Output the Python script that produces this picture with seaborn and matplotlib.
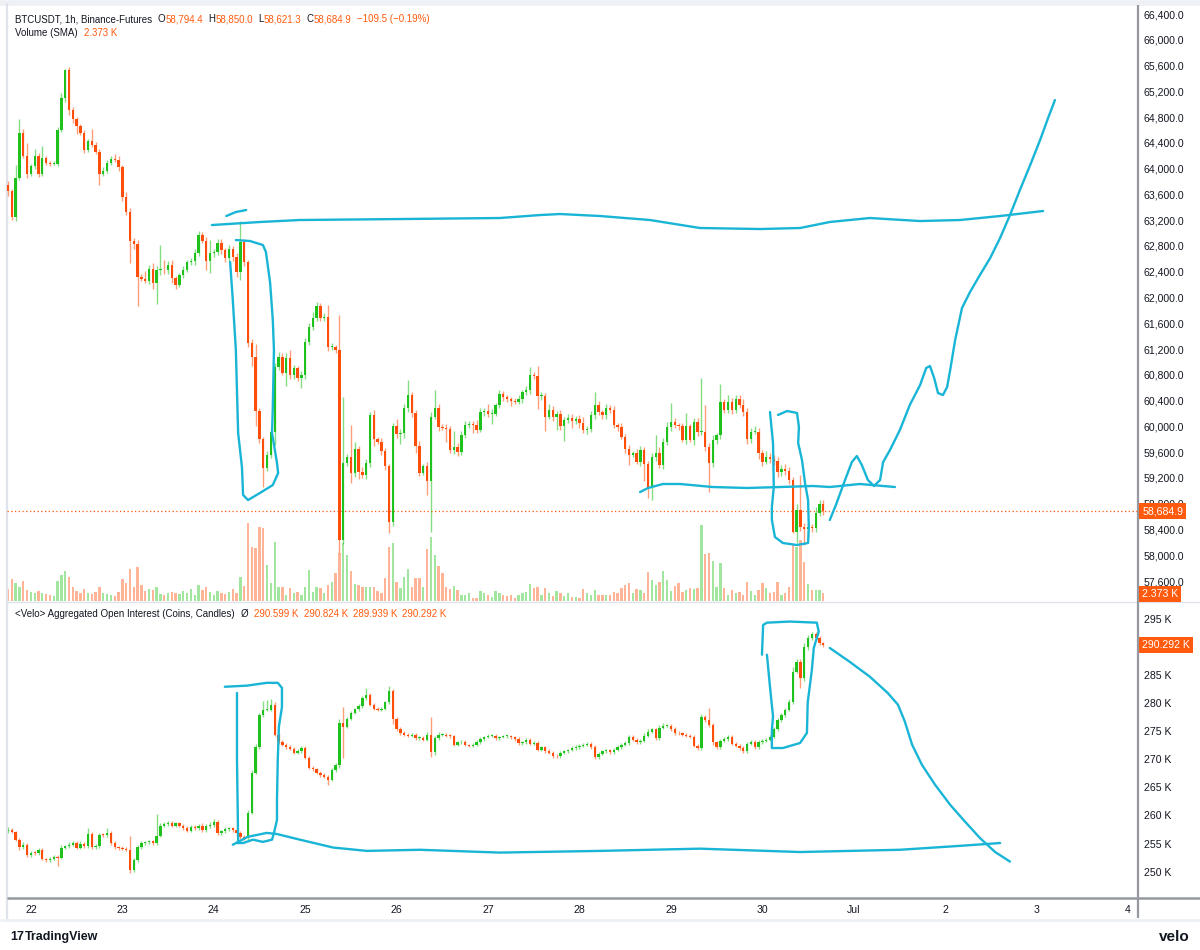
import numpy as np
import matplotlib
matplotlib.use("Agg")
import matplotlib.pyplot as plt
from matplotlib.lines import Line2D
import seaborn as sns
import pandas as pd

# ---------------- DATA (hourly candles, BTCUSDT 1h, Jun 21 18:00 -> Jun 30 16:00) ----------------
price_first_open = 63750
price_close = [
    63650, 63250, 63850, 64550, 64200, 63920, 64040, 64200, 63920, 64160, 64090, 64080, 64080, 64600, 65100, 65530, 64910, 64770, 64660, 64550, 64290, 64430, 64370, 64260,
    63920, 63960, 64090, 64150, 64140, 64020, 63560, 63330, 62880, 62830, 62320, 62290, 62260, 62450, 62220, 62430, 62430, 62420, 62500, 62300, 62200, 62350, 62430, 62550,
    62560, 62690, 62970, 62880, 62570, 62690, 62700, 62850, 62730, 62610, 62750, 62630, 62400, 62860, 62550, 61290, 61080, 60240, 59800, 59350, 59560, 59910, 60920, 61080,
    60830, 61060, 60800, 60900, 60750, 60800, 61310, 61540, 61680, 61870, 61680, 61700, 61230, 61230, 61180, 58240, 59430, 59520, 59280, 59650, 59290, 59250, 59430, 60180,
    59800, 59760, 59620, 59380, 58510, 60000, 59880, 59900, 60290, 60490, 60210, 59700, 59280, 59380, 59150, 60150, 60290, 59990, 59980, 59960, 59630, 59680, 59600, 59870,
    60020, 60040, 60020, 59950, 60220, 60240, 60200, 60200, 60330, 60500, 60450, 60420, 60400, 60380, 60420, 60530, 60560, 60800, 60780, 60470, 60470, 60150, 60260, 60150,
    60200, 60000, 60100, 60130, 60080, 60120, 60060, 59940, 59960, 60180, 60330, 60220, 60170, 60290, 60250, 60020, 59990, 59840, 59650, 59560, 59580, 59450, 59630, 59420,
    59040, 59520, 59580, 59400, 59760, 59990, 60070, 60020, 60000, 59790, 60000, 59790, 60070, 59910, 59910, 59680, 59430, 59790, 59860, 60380, 60250, 60380, 60250, 60430,
    60330, 60220, 59800, 59920, 59920, 59580, 59450, 59520, 59490, 59460, 59290, 59340, 59310, 59170, 58360, 58700, 58440, 58400, 58440, 58420, 58650, 58794.4, 58684.9,
]
price_upper_wick = [
    60, 40, 200, 220, 60, 200, 40, 100, 50, 190, 40, 30, 40, 50, 80, 20, 50, 40, 30, 40, 50, 30, 190, 40,
    40, 60, 50, 40, 80, 50, 40, 80, 60, 40, 60, 40, 120, 60, 80, 60, 380, 150, 60, 90, 40, 30, 60, 40,
    60, 70, 60, 40, 60, 200, 50, 60, 60, 40, 60, 50, 60, 330, 50, 40, 60, 200, 50, 40, 60, 60, 60, 80,
    60, 80, 120, 60, 40, 60, 60, 70, 100, 60, 50, 60, 180, 60, 40, 550, 1020, 50, 500, 110, 40, 80, 60, 40,
    70, 40, 60, 50, 40, 60, 120, 60, 60, 230, 50, 40, 80, 40, 60, 70, 270, 60, 40, 60, 50, 250, 60, 60,
    60, 40, 50, 80, 60, 40, 100, 70, 40, 60, 50, 30, 40, 40, 60, 40, 60, 120, 40, 150, 60, 50, 80, 60,
    40, 60, 50, 60, 60, 40, 60, 80, 40, 60, 200, 60, 40, 60, 40, 60, 40, 60, 40, 60, 40, 70, 60, 50,
    40, 60, 290, 100, 60, 80, 290, 60, 40, 60, 210, 40, 60, 60, 840, 420, 60, 80, 40, 280, 40, 100, 60, 60,
    60, 100, 60, 60, 80, 60, 60, 100, 60, 60, 60, 60, 80, 60, 40, 90, 550, 60, 60, 40, 100, 60, 55.6,
]
price_lower_wick = [
    80, 50, 60, 30, 40, 60, 40, 40, 50, 40, 40, 40, 30, 40, 30, 60, 80, 60, 120, 30, 40, 30, 40, 40,
    170, 40, 30, 40, 40, 50, 60, 50, 340, 80, 450, 40, 40, 50, 80, 320, 80, 60, 50, 80, 60, 40, 50, 40,
    40, 50, 40, 40, 150, 190, 60, 40, 60, 60, 50, 60, 80, 130, 60, 60, 150, 240, 60, 290, 40, 50, 200, 50,
    40, 200, 60, 60, 40, 150, 60, 40, 40, 50, 40, 40, 60, 40, 40, 210, 60, 40, 160, 60, 110, 50, 60, 60,
    100, 40, 60, 50, 170, 60, 60, 150, 80, 60, 60, 120, 50, 40, 220, 790, 40, 60, 40, 200, 40, 60, 60, 50,
    50, 40, 120, 60, 40, 60, 50, 160, 40, 40, 60, 40, 80, 40, 40, 60, 40, 50, 40, 200, 60, 220, 40, 60,
    200, 60, 220, 40, 100, 50, 80, 40, 60, 40, 60, 40, 50, 60, 40, 40, 60, 40, 60, 160, 40, 40, 60, 260,
    150, 180, 60, 40, 60, 50, 60, 40, 60, 40, 60, 40, 80, 60, 40, 60, 450, 60, 60, 60, 40, 40, 60, 40,
    40, 60, 80, 60, 40, 80, 60, 40, 60, 60, 80, 60, 60, 60, 15, 170, 60, 240, 130, 60, 60, 40, 63.6,
]
volume = [
    12, 22, 18, 14, 20, 11, 9, 8, 10, 8, 7, 6, 5, 20, 26, 30, 24, 14, 10, 8, 12, 8, 7, 9,
    14, 8, 7, 6, 5, 9, 22, 18, 32, 14, 34, 16, 10, 12, 11, 14, 7, 6, 8, 9, 8, 7, 10, 8,
    12, 6, 16, 11, 14, 9, 6, 10, 8, 7, 9, 12, 8, 24, 15, 78, 54, 53, 74, 73, 36, 18, 59, 14,
    14, 6, 13, 8, 9, 6, 14, 31, 9, 14, 13, 8, 16, 19, 28, 48, 58, 46, 30, 17, 16, 14, 14, 14,
    14, 10, 8, 23, 54, 58, 19, 13, 24, 32, 14, 23, 23, 14, 52, 64, 46, 35, 28, 14, 12, 15, 11, 6,
    6, 8, 3, 3, 10, 8, 6, 4, 10, 8, 6, 5, 6, 3, 6, 8, 9, 17, 13, 14, 6, 13, 8, 5,
    10, 8, 5, 8, 4, 4, 3, 12, 8, 6, 11, 6, 6, 6, 6, 9, 8, 13, 16, 18, 8, 12, 11, 8,
    29, 21, 16, 19, 30, 21, 10, 15, 18, 9, 11, 13, 12, 13, 76, 47, 48, 40, 14, 38, 13, 6, 11, 8,
    9, 6, 19, 10, 6, 11, 18, 13, 8, 9, 19, 6, 8, 14, 56, 54, 61, 39, 17, 11, 11, 11, 8,
]
oi_first_open = 257.2
oi_close = [
    257.5, 257.1, 255.7, 254.4, 254.8, 253.0, 253.4, 253.3, 253.9, 252.3, 252.1, 252.3, 252.7, 252.5, 254.3, 254.5, 254.8, 255.1, 254.3, 255.0, 254.6, 256.7, 254.4, 254.6,
    256.6, 256.5, 256.9, 255.1, 254.4, 254.2, 254.1, 253.9, 250.3, 252.1, 254.4, 255.1, 255.2, 255.4, 255.1, 256.4, 258.2, 258.5, 258.7, 258.2, 258.6, 258.2, 257.8, 257.3,
    258.0, 257.8, 258.1, 257.4, 258.1, 258.3, 258.9, 256.9, 257.2, 257.6, 257.7, 257.4, 256.9, 256.2, 256.0, 260.5, 267.6, 272.2, 277.9, 278.8, 278.8, 279.7, 274.4, 273.1,
    272.6, 272.2, 271.9, 271.2, 271.5, 272.0, 270.3, 268.5, 268.2, 267.6, 267.2, 266.9, 266.4, 268.1, 268.9, 276.5, 275.8, 277.2, 278.3, 278.9, 279.5, 280.9, 281.5, 279.7,
    279.0, 278.8, 279.0, 280.1, 282.2, 277.2, 275.4, 274.7, 274.4, 274.2, 274.4, 273.8, 273.8, 273.5, 274.3, 271.3, 273.8, 274.4, 274.4, 274.2, 274.1, 272.6, 273.0, 273.1,
    272.6, 272.4, 272.6, 273.1, 273.6, 274.0, 274.2, 274.2, 273.8, 274.0, 274.1, 274.1, 273.9, 273.6, 272.9, 273.1, 273.4, 272.8, 272.9, 271.7, 272.1, 271.5, 271.2, 270.6,
    270.5, 271.2, 271.4, 271.7, 272.0, 272.2, 272.4, 272.6, 272.8, 272.2, 270.4, 271.0, 271.4, 271.6, 271.3, 271.7, 272.2, 272.6, 272.9, 274.0, 273.5, 273.1, 273.3, 274.2,
    274.9, 275.3, 273.8, 275.6, 276.0, 276.0, 275.4, 274.7, 274.6, 274.4, 274.2, 274.0, 272.4, 272.0, 277.6, 277.0, 276.1, 273.0, 272.2, 273.3, 273.6, 274.0, 272.8, 272.4,
    272.0, 271.5, 272.8, 273.1, 272.2, 273.1, 273.3, 273.5, 274.0, 275.3, 277.0, 277.9, 278.8, 280.2, 285.6, 287.3, 284.5, 290.0, 291.6, 292.2, 291.6, 290.599, 290.292,
]
oi_upper_wick = [
    0.4, 0.3, 0.2, 0.3, 0.4, 0.3, 0.3, 0.2, 0.3, 0.3, 0.2, 0.3, 0.3, 0.2, 0.4, 0.3, 0.4, 0.3, 0.3, 0.4, 0.3, 1.1, 0.3, 0.3,
    0.3, 0.2, 0.9, 0.3, 0.3, 0.2, 0.3, 0.3, 2.5, 0.3, 0.4, 0.3, 0.3, 0.3, 0.3, 3.8, 0.4, 0.3, 0.3, 0.3, 0.3, 0.3, 0.3, 0.3,
    0.3, 0.3, 0.3, 0.5, 0.3, 0.6, 0.5, 0.3, 0.3, 0.3, 0.3, 0.3, 0.3, 0.3, 0.3, 0.4, 0.5, 0.6, 0.4, 1.6, 1.8, 1.0, 0.4, 0.3,
    0.3, 0.3, 0.3, 0.3, 0.3, 0.3, 0.3, 0.3, 0.3, 0.3, 0.3, 0.3, 0.3, 0.4, 0.5, 0.6, 2.8, 0.4, 0.3, 0.3, 0.3, 0.4, 1.2, 0.3,
    0.3, 0.3, 0.3, 0.3, 0.9, 0.3, 0.3, 0.3, 0.3, 0.3, 0.3, 0.3, 0.3, 0.3, 0.5, 3.3, 0.4, 0.4, 0.3, 0.3, 0.3, 0.3, 0.3, 0.3,
    0.3, 0.2, 0.3, 0.3, 0.3, 0.2, 0.3, 0.3, 0.3, 0.2, 0.3, 0.3, 0.3, 0.3, 0.3, 0.2, 0.4, 0.3, 0.3, 0.3, 0.3, 0.3, 0.3, 0.3,
    0.3, 0.3, 0.3, 0.2, 0.3, 0.3, 0.3, 0.3, 0.3, 0.3, 0.3, 0.3, 0.3, 0.3, 0.3, 0.3, 0.3, 0.3, 0.3, 0.4, 0.3, 0.3, 0.3, 0.4,
    0.4, 0.3, 0.3, 0.5, 0.4, 0.3, 0.3, 0.3, 0.3, 0.3, 0.3, 0.3, 0.3, 0.3, 0.4, 0.3, 2.2, 0.4, 0.3, 0.3, 0.3, 0.3, 0.3, 0.3,
    0.3, 0.3, 0.3, 0.3, 0.3, 0.3, 0.3, 0.3, 0.3, 0.4, 0.4, 0.4, 0.4, 0.5, 0.8, 0.5, 0.6, 0.6, 0.5, 0.5, 0.4, 0.3, 0.225,
]
oi_lower_wick = [
    0.3, 0.3, 0.3, 0.5, 0.3, 0.3, 0.3, 0.3, 0.3, 0.3, 0.3, 0.3, 0.3, 1.5, 0.3, 0.3, 0.3, 0.3, 0.3, 0.3, 0.3, 0.3, 0.3, 0.3,
    0.3, 0.3, 0.3, 0.3, 0.3, 0.3, 0.3, 0.3, 0.5, 0.3, 0.3, 0.3, 0.3, 0.3, 0.3, 0.3, 0.3, 0.3, 0.3, 0.3, 0.3, 0.3, 0.3, 0.3,
    0.3, 0.3, 0.3, 0.3, 0.3, 0.3, 0.3, 0.3, 0.3, 0.3, 0.3, 0.3, 0.3, 0.3, 0.3, 0.3, 0.3, 0.3, 0.3, 0.3, 0.3, 0.3, 0.3, 0.3,
    0.3, 0.3, 0.3, 0.3, 0.3, 0.3, 0.3, 0.3, 0.3, 0.3, 0.3, 0.3, 0.9, 0.3, 0.3, 0.5, 5.5, 0.3, 0.3, 0.3, 0.3, 0.3, 0.3, 0.3,
    0.3, 0.3, 0.3, 0.3, 0.3, 1.0, 0.3, 0.3, 0.3, 0.3, 0.3, 0.3, 0.3, 0.3, 0.3, 0.9, 0.6, 0.3, 0.3, 0.3, 0.3, 0.3, 0.3, 0.3,
    0.3, 0.3, 0.3, 0.3, 0.3, 0.3, 0.3, 0.3, 0.3, 0.3, 0.3, 0.3, 0.3, 0.3, 0.3, 0.3, 0.3, 0.3, 0.3, 0.3, 0.3, 0.3, 0.3, 0.3,
    0.3, 0.3, 0.3, 0.3, 0.3, 0.3, 0.3, 0.3, 0.3, 0.3, 0.3, 0.3, 0.3, 0.3, 0.3, 0.3, 0.3, 0.3, 0.3, 0.3, 0.3, 0.3, 0.3, 0.3,
    0.3, 0.3, 0.3, 0.3, 0.3, 0.3, 0.3, 0.3, 0.3, 0.3, 0.3, 0.3, 0.3, 0.3, 0.3, 0.3, 0.3, 0.5, 0.3, 0.3, 0.3, 0.3, 0.3, 0.3,
    0.3, 0.3, 0.3, 0.3, 0.3, 0.3, 0.3, 0.3, 0.3, 0.3, 0.3, 0.3, 0.3, 0.3, 0.3, 0.3, 1.8, 0.5, 0.5, 0.4, 0.4, 0.3, 0.353,
]
first_hour = -6  # first candle = Jun 21 18:00 (hour 0 = Jun 22 00:00)

day_ticks = [0, 24, 48, 72, 96, 120, 144, 168, 192, 216, 240, 264, 288]
day_labels = ["22", "23", "24", "25", "26", "27", "28", "29", "30", "Jul", "2", "3", "4"]
price_ticks = list(range(57600, 66401, 400))
oi_ticks = [250, 255, 260, 265, 270, 275, 280, 285, 295]   # 290 K is hidden under the last-value label
last_price = 58684.9
volume_sma = "2.373 K"
last_oi = 290.292

header_ohlc = [("O", "58,794.4"), ("H", "58,850.0"), ("L", "58,621.3"), ("C", "58,684.9")]
header_change = "\u2212109.5 (\u22120.19%)"
oi_legend_values = ["290.599 K", "290.824 K", "289.939 K", "290.292 K"]

# hand-drawn annotations (hours, value)
top_line_h = [47.5, 60.1, 70.6, 96.9, 123.1, 133.6, 138.9, 149.4, 162.5, 175.6, 191.4, 201.9, 209.7, 220.2, 233.4, 243.9, 254.4, 265.7]
top_line_p = [63125, 63172, 63203, 63218, 63234, 63280, 63296, 63265, 63203, 63079, 63063, 63079, 63172, 63234, 63187, 63203, 63265, 63343]
arc_h = [51.3, 53.8, 56.5]
arc_p = [63265, 63327, 63358]
loop1_h = [52.3, 53.0, 53.8, 54.4, 55.4, 55.7, 57.0, 60.1, 63.5, 64.9, 64.6, 63.3, 63.5, 63.8, 63.5, 62.8, 61.7, 60.9, 57.5, 53.8]
loop1_p = [62551, 61961, 61185, 59897, 59369, 58935, 58857, 58966, 59090, 59276, 59432, 59897, 60301, 61185, 61651, 62225, 62706, 62815, 62877, 62892]
low_line_h = [159.9, 162.0, 165.9, 170.4, 179.0, 188.0, 196.6, 205.3, 209.7, 217.6, 226.8]
low_line_p = [58981, 59044, 59106, 59106, 59059, 59044, 59059, 59075, 59059, 59106, 59059]
loop2_h = [194.0, 194.8, 195.0, 194.5, 194.5, 195.3, 197.4, 201.1, 204.0, 204.2, 204.0, 203.2, 202.4, 201.4, 201.6, 201.1, 198.5, 196.1]
loop2_p = [60223, 59742, 59059, 58749, 58547, 58283, 58190, 58159, 58190, 58438, 58857, 59121, 59478, 59742, 59990, 60208, 60239, 60177]
proj_h = [209.7, 211.3, 213.7, 215.5, 216.8, 218.1, 219.7, 221.3, 222.9, 223.7, 225.5, 228.1, 230.7, 233.4, 235.0, 236.0, 237.1, 238.1,
          239.4, 240.5, 241.3, 242.6, 244.4, 246.5, 249.1, 251.8, 254.4, 257.0, 259.6, 262.3, 264.9, 267.0, 268.8]
proj_p = [58547, 58780, 59168, 59447, 59540, 59401, 59168, 59075, 59168, 59447, 59633, 59944, 60332, 60642, 60906, 60937, 60751, 60518,
          60487, 60611, 60875, 61340, 61837, 62085, 62349, 62613, 62924, 63280, 63668, 64056, 64444, 64786, 65065]
oi_loop1_h = [50.9, 56.7, 61.9, 64.8, 65.9, 65.9, 65.1, 64.8, 64.6, 64.6, 63.8, 63.3, 60.9, 58.3, 55.7, 54.1]
oi_loop1_v = [282.9, 283.1, 283.6, 283.6, 282.7, 279.3, 275.8, 269.9, 262.8, 259.2, 256.9, 255.7, 255.3, 255.7, 255.1, 255.1]
oi_stem_h = [54.1, 54.1, 54.4]
oi_stem_v = [281.8, 269.9, 255.3]
oi_base_h = [53.0, 56.9, 61.9, 64.6, 70.6, 79.3, 88.2, 102.1, 123.1, 149.4, 175.6, 201.9, 228.1, 243.9, 254.4]
oi_base_v = [254.8, 256.2, 256.9, 256.7, 255.7, 254.3, 253.7, 253.9, 253.4, 253.7, 254.1, 253.5, 253.9, 254.6, 255.1]
oi_loop2_h = [191.9, 192.2, 193.2, 199.2, 206.3, 206.8, 205.5, 205.0, 203.9, 203.7, 201.9, 197.4, 194.5, 194.5, 194.8, 194.0, 193.2]
oi_loop2_v = [288.6, 293.9, 294.3, 294.5, 294.3, 292.7, 289.8, 285.9, 280.1, 274.7, 272.9, 272.0, 272.0, 275.2, 277.6, 282.9, 288.6]
oi_proj_h = [209.7, 215.0, 220.2, 224.9, 227.6, 229.4, 231.3, 233.9, 237.3, 241.3, 245.2, 249.1, 253.1, 257.0]
oi_proj_v = [289.8, 287.3, 284.7, 281.8, 279.7, 276.7, 272.6, 269.0, 265.5, 261.9, 258.9, 256.0, 253.5, 251.8]

# ---------------- STYLE ----------------
sns.set_theme(style="white")
plt.rcParams['font.family'] = ['Liberation Sans', 'DejaVu Sans']

UP = '#1fc21c'
DN = '#ff4d0a'
ORANGE = '#ff5a0d'
CYAN = '#19b5d6'
TXT = '#131722'
GRID_GRAY = '#e0e3eb'
SEP = '#9598a1'

W, H = 1200, 950
fig = plt.figure(figsize=(W / 100, H / 100), dpi=100)
fig.patch.set_facecolor('white')


def fx(px):
    return px / W


def fy(py):
    return 1 - py / H


L, R = 7, 1138
ax = fig.add_axes([fx(L), fy(601), (R - L) / W, (601 - 5) / H])
axv = ax.twinx()
axo = fig.add_axes([fx(L), fy(897), (R - L) / W, (897 - 603) / H])
ax.set_zorder(2)
axv.set_zorder(1)
ax.patch.set_visible(False)

n = len(price_close)
hours = np.arange(n) + first_hour


def ohlc(first_open, close, uw, lw):
    c = np.asarray(close, float)
    o = np.concatenate([[first_open], c[:-1]])
    top = np.maximum(o, c)
    bot = np.minimum(o, c)
    return o, c, top + np.asarray(uw, float), bot - np.asarray(lw, float)


def draw_candles(a, x, o, c, h, l, minh):
    up = c >= o
    col = np.where(up, UP, DN)
    top = np.maximum(o, c)
    bot = np.minimum(o, c)
    a.vlines(x, l, h, colors=col, linewidth=1.0, alpha=0.55, zorder=2)
    a.bar(x, np.maximum(top - bot, minh), bottom=bot, width=0.62, color=col,
          linewidth=0, zorder=3)
    return up


po, pc, ph, pl = ohlc(price_first_open, price_close, price_upper_wick, price_lower_wick)
up = draw_candles(ax, hours, po, pc, ph, pl, 14)

# volume
vcol = np.where(up, UP, DN)
axv.bar(hours, volume, width=0.62, color=vcol, alpha=0.42, linewidth=0)
axv.set_ylim(0, max(volume) * 7.64)
axv.set_yticks([])
axv.grid(False)

oo, oc, oh, ol = ohlc(oi_first_open, oi_close, oi_upper_wick, oi_lower_wick)
draw_candles(axo, hours, oo, oc, oh, ol, 0.16)

# last price dotted line
ax.axhline(last_price, color=ORANGE, lw=0.9, ls=(0, (1, 2)), zorder=1)

# hand-drawn annotations
price_drawings = [(top_line_h, top_line_p), (arc_h, arc_p), (loop1_h, loop1_p),
                  (low_line_h, low_line_p), (loop2_h, loop2_p), (proj_h, proj_p)]
for hh, vv in price_drawings:
    sns.lineplot(x=hh, y=vv, sort=False, estimator=None, ax=ax, color=CYAN, lw=1.7, zorder=5)
oi_drawings = [(oi_loop1_h, oi_loop1_v), (oi_stem_h, oi_stem_v), (oi_base_h, oi_base_v),
               (oi_loop2_h, oi_loop2_v), (oi_proj_h, oi_proj_v)]
for hh, vv in oi_drawings:
    sns.lineplot(x=hh, y=vv, sort=False, estimator=None, ax=axo, color=CYAN, lw=1.7, zorder=5)

# axes formatting
xlim = (-6.27, 290.6)
for a in (ax, axv, axo):
    a.set_xlim(*xlim)
    for s in a.spines.values():
        s.set_visible(False)
    a.grid(False)

ax.set_ylim(57290, 66540)
ax.yaxis.tick_right()
ax.set_yticks(price_ticks)
ax.set_yticklabels([f"{v:,.1f}" for v in price_ticks])
ax.tick_params(axis='y', length=0, pad=4, labelsize=7.6, labelcolor=TXT)
ax.set_xticks([])
ax.set_xlabel('')
ax.set_ylabel('')

axo.set_ylim(245.5, 297.8)
axo.yaxis.tick_right()
axo.set_yticks(oi_ticks)
axo.set_yticklabels([f"{v} K" for v in oi_ticks])
axo.tick_params(axis='y', length=0, pad=4, labelsize=7.6, labelcolor=TXT)
axo.set_xticks(day_ticks)
axo.set_xticklabels(day_labels)
axo.tick_params(axis='x', length=0, pad=6, labelsize=7.6, labelcolor=TXT)
axo.set_xlabel('')
axo.set_ylabel('')

# value labels on the scale
box = dict(boxstyle='square,pad=0.28', fc=ORANGE, ec='none')
ax.annotate(f"{last_price:,.1f}", xy=(1, last_price), xycoords=('axes fraction', 'data'),
            xytext=(3, 0), textcoords='offset points', ha='left', va='center',
            fontsize=7.6, color='white', bbox=box, annotation_clip=False, zorder=10)
ax.annotate(volume_sma, xy=(1, 0.012), xycoords='axes fraction',
            xytext=(3, 0), textcoords='offset points', ha='left', va='center',
            fontsize=7.6, color='white', bbox=box, annotation_clip=False, zorder=10)
axo.annotate(f"{last_oi:.3f} K", xy=(1, last_oi), xycoords=('axes fraction', 'data'),
             xytext=(3, 0), textcoords='offset points', ha='left', va='center',
             fontsize=7.6, color='white', bbox=box, annotation_clip=False, zorder=10)

# frame lines
def fline(x0, y0, x1, y1, color, lw):
    fig.add_artist(Line2D([fx(x0), fx(x1)], [fy(y0), fy(y1)], color=color, lw=lw,
                          solid_capstyle='butt'))

fline(0, 3, 1200, 3, '#edf0f5', 4)
fline(7, 3, 7, 920, GRID_GRAY, 1.6)
fline(7, 602, 1138, 602, GRID_GRAY, 1.0)
fline(1138, 602, 1200, 602, GRID_GRAY, 1.0)
fline(1138, 5, 1138, 918, SEP, 1.6)
fline(7, 897.5, 1200, 897.5, SEP, 1.8)
fline(0, 920, 1200, 920, '#edf0f5', 2)

# legends laid out piece by piece
fs = 7.0
renderer = fig.canvas.get_renderer()


def seq(x, y, parts):
    for s, c, gap in parts:
        tx = fig.text(fx(x), fy(y), s, color=c, fontsize=fs, va='center', ha='left')
        x += tx.get_window_extent(renderer).width + gap


line1 = [("BTCUSDT, 1h, Binance-Futures", TXT, 5)]
for k, v in header_ohlc:
    line1 += [(k, TXT, 0.5), (v, ORANGE, 5)]
line1 += [(header_change, ORANGE, 0)]
seq(15, 19, line1)
seq(15, 33, [("Volume (SMA)", TXT, 6), (volume_sma, ORANGE, 0)])
line_oi = [("<Velo> Aggregated Open Interest (Coins, Candles)", TXT, 6), ("\u00d8", TXT, 6)]
line_oi += [(v, ORANGE, 5) for v in oi_legend_values]
seq(15, 614, line_oi)

# footer logos
fig.text(fx(10), fy(937), "17", fontsize=9, weight='heavy', color=TXT, va='center', ha='left')
fig.text(fx(25), fy(937), "TradingView", fontsize=9, weight='bold', color=TXT, va='center', ha='left')
fig.text(fx(1190), fy(937), "velo", fontsize=11, weight='bold', color=TXT, va='center', ha='right')

fig.savefig("out.png", dpi=100, facecolor='white')
